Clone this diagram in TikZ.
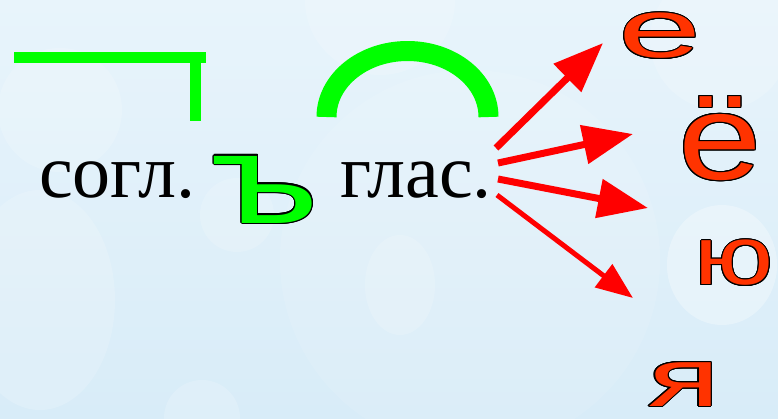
\documentclass[tikz,border=0pt]{standalone}
\usepackage{fontspec}
\setmainfont{Liberation Serif}
\newfontfamily\lettersans{Liberation Sans}
\usepackage{graphicx}
\usepackage{contour}
\contourlength{1.1pt}
\usetikzlibrary{arrows.meta}

\definecolor{bgtop}{RGB}{232,244,251}
\definecolor{bgbot}{RGB}{216,236,248}
\definecolor{signgreen}{RGB}{0,255,0}
\definecolor{arrowred}{RGB}{255,0,0}
\definecolor{vowelred}{RGB}{255,51,0}

% outlined, stretched letter
\newcommand\outlined[2]{\contour{black}{\scalebox{#1}[1]{#2}}}

\begin{document}
\begin{tikzpicture}[x=1pt, y=-1pt,
  word/.style={font=\fontsize{76}{76}\selectfont, inner sep=0pt, anchor=base west},
  vowel/.style={text=vowelred, font=\lettersans\fontsize{83}{83}\selectfont, inner sep=0pt},
  signmark/.style={draw=signgreen, line cap=butt},
  pointer/.style={draw=arrowred, line width=7pt, -{Triangle[length=50pt,width=38pt]}},
  bokeh/.style={fill=white, opacity=0.16}]
  % background
  \fill[top color=bgtop, bottom color=bgbot] (0,0) rectangle (778,418);
  \useasboundingbox (0,0) rectangle (778,418);
  \fill[bokeh] (380,0) circle[radius=75];
  \fill[bokeh] (60,110) circle[radius=62];
  \fill[bokeh] (40,300) circle[x radius=75, y radius=110];
  \fill[bokeh, opacity=0.1] (470,260) circle[radius=190];
  \fill[bokeh] (237,215) circle[radius=37];
  \fill[bokeh] (400,285) circle[x radius=35, y radius=50];
  \fill[bokeh] (202,418) circle[radius=38];
  \fill[bokeh, opacity=0.3] (722,265) circle[x radius=55, y radius=60];
  \fill[bokeh] (720,40) circle[radius=70];
  % words
  \node[word] (cons) at (39,197) {согл.};
  \node[word] (vow) at (340,197) {глас.};
  \node[text=signgreen, font=\lettersans\fontsize{127}{127}\selectfont, inner sep=0pt]
    (hard) at (265,190) {\outlined{1.37}{ъ}};
  % root and ending marks
  \draw[signmark, line width=11pt] (14,57.5) -- (206,57.5);
  \draw[signmark, line width=11pt] (195.5,52) -- (195.5,121);
  \draw[signmark, line width=20pt] (326.5,117) arc[start angle=180, end angle=360, x radius=81, y radius=66];
  % vowels
  \node[vowel] (ye)  at (660,36.5) {\outlined{1.8}{е}};
  \node[vowel, font=\lettersans\fontsize{121}{121}\selectfont] (yo) at (720,139) {\outlined{1.24}{ё}};
  \node[vowel] (yu)  at (734,263.5) {\outlined{1.27}{ю}};
  \node[vowel] (ya)  at (684,385) {\outlined{1.6}{я}};
  % arrows
  \coordinate (s1) at (496,148);
  \coordinate (s2) at (498,163);
  \coordinate (s3) at (498,179);
  \coordinate (s4) at (497,195);
  \coordinate (t1) at (603,43);
  \coordinate (t2) at (633,134);
  \coordinate (t3) at (648,208);
  \coordinate (t4) at (633,298);
  \draw[pointer] (s1) -- (t1);
  \draw[pointer] (s2) -- (t2);
  \draw[pointer] (s3) -- (t3);
  \draw[pointer, line width=5pt, -{Triangle[length=37pt,width=28pt]}] (s4) -- (t4);
\end{tikzpicture}
\end{document}
